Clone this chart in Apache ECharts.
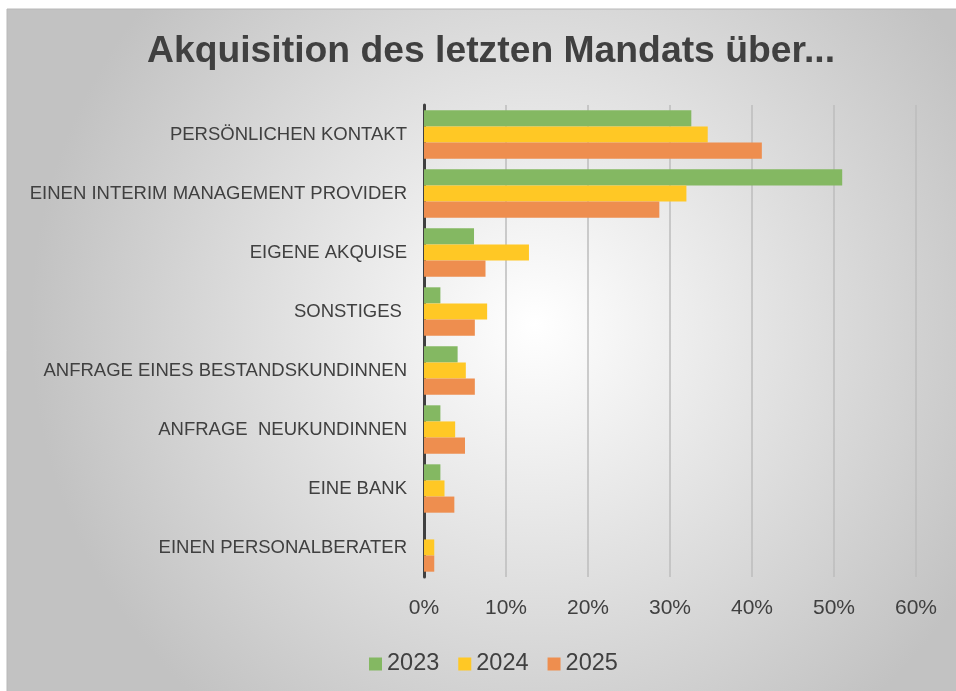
<!DOCTYPE html>
<html>
<head>
<meta charset="utf-8">
<script src="https://cdn.jsdelivr.net/npm/echarts@6/dist/echarts.min.js"></script>
<style>
  html, body { margin: 0; padding: 0; background: #fff; }
  #chart { width: 956px; height: 691px; }
</style>
</head>
<body>
<div id="chart"></div>
<script>
// categories top to bottom
const categories = [
  'PERSÖNLICHEN KONTAKT',
  'EINEN INTERIM MANAGEMENT PROVIDER',
  'EIGENE AKQUISE',
  'SONSTIGES ',
  'ANFRAGE EINES BESTANDSKUNDINNEN',
  'ANFRAGE  NEUKUNDINNEN',
  'EINE BANK',
  'EINEN PERSONALBERATER'
];

// shares in percent
const values2023 = [32.6, 51.0, 6.1, 2.0, 4.1, 2.0, 2.0, 0];
const values2024 = [34.6, 32.0, 12.8, 7.7, 5.1, 3.8, 2.5, 1.25];
const values2025 = [41.2, 28.7, 7.5, 6.2, 6.2, 5.0, 3.7, 1.25];

const seriesNames = ['2023', '2024', '2025'];
const seriesColors = ['#84b862', '#ffc825', '#ee8e4f'];

const chart = echarts.init(document.getElementById('chart'));

const textColor = '#404040';
const font = '"Liberation Sans", Arial, sans-serif';

function makeSeries(name, data, color) {
  return {
    name: name,
    type: 'bar',
    data: data,
    barGap: '0%',
    barCategoryGap: '18%',
    itemStyle: { color: color },
    emphasis: { disabled: true },
  };
}

chart.setOption({
  animation: false,
  graphic: [
    {
      type: 'rect',
      z: -100,
      silent: true,
      shape: { x: 7, y: 9, width: 960, height: 700 },
      style: {
        fill: {
          type: 'radial',
          x: 0.55,
          y: 0.45,
          r: 0.72,
          colorStops: [
            { offset: 0, color: '#ffffff' },
            { offset: 1, color: '#c2c2c2' },
          ],
        },
        stroke: '#b8b8b8',
        lineWidth: 1,
      },
    },
  ],
  title: {
    text: 'Akquisition des letzten Mandats über...',
    left: 142,
    top: 28,
    textStyle: {
      fontFamily: font,
      fontSize: 37.3,
      fontWeight: 'bold',
      color: textColor,
    },
  },
  legend: {
    data: seriesNames,
    left: 364,
    top: 647,
    itemWidth: 13,
    itemHeight: 13,
    itemGap: 19,
    icon: 'rect',
    textStyle: {
      fontFamily: font,
      fontSize: 23.5,
      color: textColor,
      padding: [0, 0, 0, 0],
    },
  },
  grid: {
    left: 424,
    right: 40,
    top: 105,
    bottom: 114,
    containLabel: false,
  },
  xAxis: {
    type: 'value',
    min: 0,
    max: 60,
    interval: 10,
    axisLine: { show: false },
    axisTick: { show: false },
    splitLine: {
      lineStyle: { color: '#bdbdbd', width: 1.5 },
    },
    axisLabel: {
      margin: 21,
      fontFamily: font,
      fontSize: 21,
      color: textColor,
      formatter: '{value}%',
    },
  },
  yAxis: {
    type: 'category',
    data: categories,
    inverse: true,
    axisTick: { show: false },
    axisLine: {
      show: true,
      lineStyle: { color: '#404040', width: 3 },
    },
    axisLabel: {
      margin: 17,
      fontFamily: font,
      fontSize: 18.5,
      color: textColor,
    },
  },
  series: [
    makeSeries(seriesNames[0], values2023, seriesColors[0]),
    makeSeries(seriesNames[1], values2024, seriesColors[1]),
    makeSeries(seriesNames[2], values2025, seriesColors[2]),
  ],
});
</script>
</body>
</html>
